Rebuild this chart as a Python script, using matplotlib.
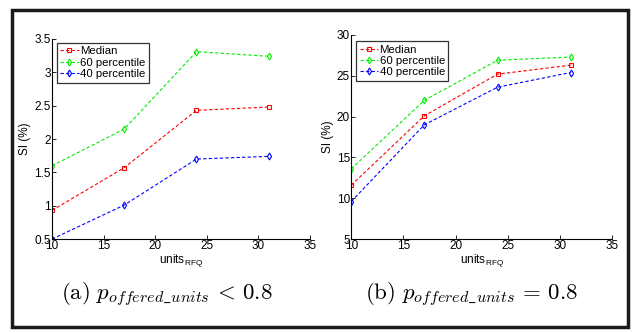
import matplotlib
matplotlib.use("Agg")
from matplotlib import pyplot as plt
from matplotlib.patches import Rectangle

units = [10, 17, 24, 31]

# (a) p_offered_units < 0.8
a_median = [0.93, 1.57, 2.43, 2.48]
a_p60 = [1.60, 2.15, 3.31, 3.24]
a_p40 = [0.50, 1.01, 1.70, 1.74]

# (b) p_offered_units = 0.8
b_median = [11.6, 20.1, 25.2, 26.3]
b_p60 = [13.6, 22.0, 26.9, 27.3]
b_p40 = [9.6, 19.0, 23.6, 25.4]

series_labels = ["Median", "60 percentile", "40 percentile"]
captions = [r"$\mathrm{(a)}\ p_{offered\_units}\,<\,0.8$",
            r"$\mathrm{(b)}\ p_{offered\_units}\,=\,0.8$"]

plt.rcParams["font.family"] = ["Liberation Sans", "DejaVu Sans"]
plt.rcParams["mathtext.fontset"] = "cm"

fig = plt.figure(figsize=(6.34, 3.33), dpi=100)


def draw_panel(ax, med, p60, p40, ylim, yticks, legend_bbox):
  ax.plot(units, med, "--", color="#ff0000", marker="s", ms=3.2, mfc="none", mew=0.8, lw=0.8, dashes=(3, 2), label=series_labels[0])
  ax.plot(units, p60, "--", color="#00ee00", marker="d", ms=3.5, mfc="none", mew=0.8, lw=0.8, dashes=(3, 2), label=series_labels[1])
  ax.plot(units, p40, "--", color="#0000ff", marker="d", ms=3.5, mfc="none", mew=0.8, lw=0.8, dashes=(3, 2), label=series_labels[2])
  ax.set_xlim(10, 35)
  ax.set_ylim(*ylim)
  ax.set_xticks([10, 15, 20, 25, 30, 35])
  ax.set_yticks(yticks)
  ax.set_yticklabels(["{:g}".format(t) for t in yticks])
  ax.spines["top"].set_visible(False)
  ax.spines["right"].set_visible(False)
  ax.spines["left"].set_linewidth(0.8)
  ax.spines["bottom"].set_linewidth(0.8)
  ax.tick_params(direction="in", length=3, width=0.6, labelsize=8.5, pad=1)
  ax.set_xlabel(r"units$_{\mathregular{RFQ}}$", fontsize=8.5, labelpad=0)
  ax.set_ylabel("SI (%)", fontsize=8.5, labelpad=2)
  leg = ax.legend(loc="upper left", bbox_to_anchor=legend_bbox, fontsize=8.2, frameon=True,
                  fancybox=False, edgecolor="black", handlelength=1.6, handletextpad=0.15,
                  borderpad=0.3, labelspacing=0.12, borderaxespad=0)
  leg.get_frame().set_linewidth(0.9)


ax1 = fig.add_axes([0.082, 0.282, 0.407, 0.601])
draw_panel(ax1, a_median, a_p60, a_p40, (0.5, 3.5), [0.5, 1, 1.5, 2, 2.5, 3, 3.5], (0.019, 0.98))

ax2 = fig.add_axes([0.554, 0.282, 0.412, 0.613])
draw_panel(ax2, b_median, b_p60, b_p40, (5, 30), [5, 10, 15, 20, 25, 30], (0.019, 0.97))

fig.text(0.263, 0.114, captions[0], fontsize=16.5, ha="center", va="center")
fig.text(0.743, 0.114, captions[1], fontsize=16.5, ha="center", va="center")

fig.patches.append(Rectangle((0.019, 0.018), 0.972, 0.952, transform=fig.transFigure,
                             fill=False, edgecolor="#1a1a1a", linewidth=2.5))

fig.savefig("out.png", dpi=100)
